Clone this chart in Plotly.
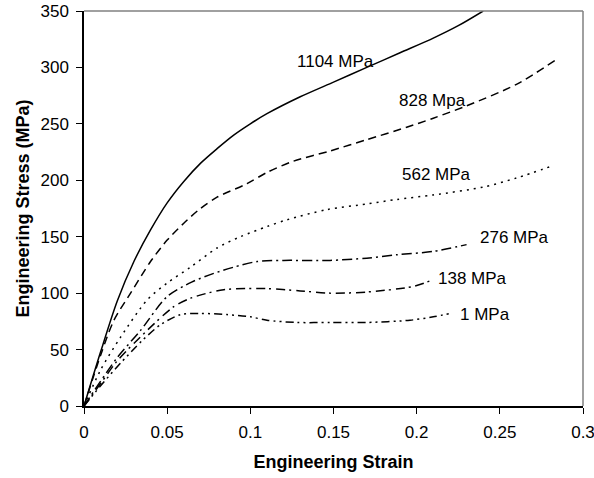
import plotly.graph_objects as go

# Data (strain, stress in MPa)
x_1104 = [0, 0.01, 0.02, 0.03, 0.04, 0.05, 0.06, 0.07, 0.08, 0.09, 0.1, 0.11, 0.13, 0.15, 0.17, 0.19, 0.21, 0.225, 0.24]
y_1104 = [0, 48, 93, 128, 156, 180, 199, 215, 228, 240, 250, 259, 274, 287, 300, 313, 326, 337, 350]

x_828 = [0, 0.01, 0.018, 0.028, 0.04, 0.05, 0.06, 0.07, 0.08, 0.098, 0.11, 0.126, 0.148, 0.17, 0.194, 0.21, 0.23, 0.26, 0.283]
y_828 = [0, 45, 76, 100, 128, 147, 162, 175, 185, 197, 207, 217, 226, 236, 247, 255, 266, 285, 306]

x_562 = [0, 0.01, 0.022, 0.038, 0.05, 0.064, 0.08, 0.094, 0.11, 0.122, 0.146, 0.17, 0.188, 0.21, 0.24, 0.26, 0.282]
y_562 = [0, 32, 61, 94, 109, 123, 140, 150, 159, 165, 174, 179, 183, 187, 194, 202, 213]

x_276 = [0, 0.01, 0.02, 0.034, 0.05, 0.065, 0.078, 0.09, 0.104, 0.12, 0.148, 0.17, 0.188, 0.21, 0.23]
y_276 = [0, 22, 43, 67, 97, 110, 117.5, 123, 128, 129, 129, 131, 134, 137, 143]

x_138 = [0, 0.01, 0.02, 0.038, 0.054, 0.065, 0.084, 0.11, 0.13, 0.148, 0.17, 0.198, 0.21]
y_138 = [0, 20, 40, 67, 88, 96, 103, 104, 102, 100, 101, 106, 112]

x_1 = [0, 0.01, 0.022, 0.035, 0.046, 0.058, 0.07, 0.086, 0.1, 0.11, 0.128, 0.148, 0.17, 0.196, 0.21, 0.22]
y_1 = [0, 18, 38, 58, 72, 81, 82, 81, 79, 76, 74, 74, 74, 76, 79, 82]

series_names = ["1104 MPa", "828 Mpa", "562 MPa", "276 MPa", "138 MPa", "1 MPa"]
series_x = [x_1104, x_828, x_562, x_276, x_138, x_1]
series_y = [y_1104, y_828, y_562, y_276, y_138, y_1]
dashes = ["solid", "8px,5px", "2px,5px", "10px,4px,2px,4px", "9px,4px,2px,5px", "8px,4px,2px,4px,2px,4px"]

# label anchor points (data coords) and alignment
label_x = [0.1756, 0.231, 0.19, 0.237, 0.2117, 0.225]
label_y = [305, 271, 205, 149, 113, 81]
label_anchor = ["right", "right", "left", "left", "left", "left"]

FONT = "Arial, Liberation Sans, sans-serif"

fig = go.Figure()
for name, xs, ys, d in zip(series_names, series_x, series_y, dashes):
    fig.add_trace(go.Scatter(x=xs, y=ys, mode="lines", name=name,
                             line=dict(color="black", width=1.5, dash=d, shape="spline", smoothing=0.8)))

for name, lx, ly, la in zip(series_names, label_x, label_y, label_anchor):
    fig.add_annotation(x=lx, y=ly, text=name, showarrow=False, xanchor=la, yanchor="middle",
                       font=dict(family=FONT, size=17, color="black"))

# gray top/right frame
fig.add_shape(type="line", xref="paper", yref="paper", x0=0, x1=1, y0=1, y1=1, layer="above",
              line=dict(color="#808080", width=1.5))
fig.add_shape(type="line", xref="paper", yref="paper", x0=1, x1=1, y0=0, y1=1, layer="above",
              line=dict(color="#808080", width=1.5))

fig.update_layout(
    width=594, height=478,
    margin=dict(l=84, r=11, t=11, b=72, autoexpand=False),
    paper_bgcolor="white", plot_bgcolor="white",
    showlegend=False,
    font=dict(family=FONT, size=17, color="black"),
    xaxis=dict(range=[0, 0.3], tickvals=[0, 0.05, 0.1, 0.15, 0.2, 0.25, 0.3],
               ticktext=["0", "0.05", "0.1", "0.15", "0.2", "0.25", "0.3"],
               ticklabeloverflow="allow", ticklabelstandoff=4, automargin=False,
               showgrid=False, zeroline=False, showline=True, linecolor="black", linewidth=1.5,
               ticks="outside", ticklen=6, tickcolor="black",
               title=dict(text="<b>Engineering Strain</b>", font=dict(size=18), standoff=14)),
    yaxis=dict(range=[0, 350], dtick=50, showgrid=False, zeroline=False, showline=True,
               ticklabelstandoff=4, automargin=False,
               linecolor="black", linewidth=1.5, ticks="outside", ticklen=6, tickcolor="black",
               title=dict(text="<b>Engineering Stress (MPa)</b>", font=dict(size=18), standoff=6)),
)

fig.write_html("out.html")
